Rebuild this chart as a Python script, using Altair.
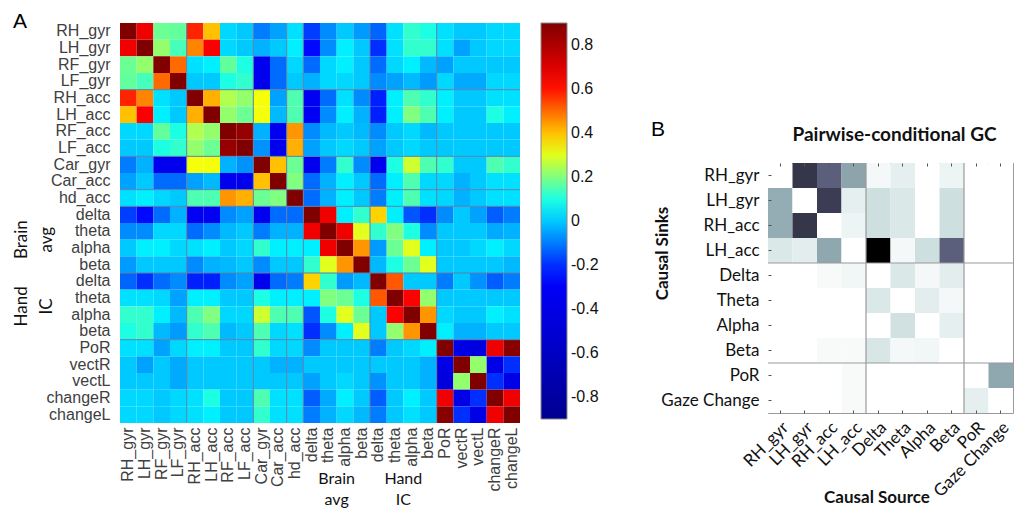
import altair as alt
import pandas as pd

# ---------------- Panel A data ----------------
left_keys = ["RH_gyr", "LH_gyr", "RF_gyr", "LF_gyr", "RH_acc", "LH_acc", "RF_acc", "LF_acc",
             "Car_gyr", "Car_acc", "hd_acc", "delta", "theta", "alpha", "beta",
             "delta#2", "theta#2", "alpha#2", "beta#2", "PoR", "vectR", "vectL", "changeR", "changeL"]

# lower triangle of the symmetric correlation matrix (row i holds columns 0..i-1); diagonal = 1
corr_lower = [
    [0.65],
    [0.18, 0.22],
    [0.17, 0.14, 0.50],
    [0.58, 0.47, 0.03, 0.00],
    [0.40, 0.63, 0.05, 0.00, 0.42],
    [0.02, 0.02, 0.17, 0.10, 0.25, 0.22],
    [0.00, 0.00, 0.10, 0.12, 0.22, 0.18, 0.85],
    [-0.10, -0.03, -0.35, -0.35, 0.32, 0.32, -0.03, -0.07],
    [-0.05, 0.00, -0.12, -0.12, -0.05, -0.02, -0.35, -0.35, 0.40],
    [0.03, 0.05, 0.02, 0.00, 0.15, 0.15, 0.45, 0.42, 0.18, 0.20],
    [-0.18, -0.25, -0.12, -0.03, -0.33, -0.33, -0.08, -0.05, -0.35, -0.12, -0.12],
    [-0.08, -0.08, 0.02, 0.02, -0.12, -0.08, -0.02, 0.00, -0.10, -0.03, -0.03, 0.65],
    [0.00, 0.05, 0.05, 0.02, 0.03, 0.05, 0.00, 0.02, 0.12, 0.05, 0.05, 0.05, 0.65],
    [-0.06, 0.00, 0.00, 0.00, -0.08, -0.03, -0.02, 0.00, -0.08, 0.00, 0.00, 0.12, 0.30, 0.45],
    [-0.13, -0.20, -0.12, -0.08, -0.22, -0.22, -0.08, -0.05, -0.35, -0.12, -0.10, 0.38, 0.12, -0.06, -0.02],
    [0.03, 0.03, 0.02, -0.05, 0.05, 0.05, 0.00, 0.00, 0.10, 0.05, 0.05, 0.05, 0.20, 0.18, 0.10, 0.52],
    [0.12, 0.12, 0.05, -0.02, 0.15, 0.20, 0.02, 0.02, 0.28, 0.15, 0.15, -0.15, 0.10, 0.30, 0.18, 0.00, 0.62],
    [0.10, 0.12, -0.02, -0.06, 0.12, 0.15, -0.02, 0.00, 0.15, 0.02, 0.03, -0.20, -0.08, 0.05, 0.30, 0.00, 0.22, 0.45],
    [0.03, 0.03, -0.05, 0.02, 0.05, 0.05, 0.00, 0.00, 0.12, 0.02, 0.02, -0.08, 0.00, 0.00, 0.00, -0.10, 0.00, 0.02, 0.05],
    [0.00, -0.05, 0.00, -0.04, 0.00, 0.00, 0.00, 0.00, 0.00, -0.03, -0.03, 0.00, 0.00, 0.00, 0.00, 0.00, 0.00, 0.00, -0.03, -0.40],
    [0.00, 0.00, 0.00, -0.04, 0.00, 0.00, 0.00, 0.00, 0.00, 0.00, 0.00, -0.05, 0.00, 0.02, 0.00, -0.07, 0.00, 0.00, -0.03, -0.45, 0.22],
    [0.02, 0.02, 0.00, 0.02, 0.03, 0.10, 0.00, 0.00, 0.15, 0.03, 0.03, -0.14, -0.04, 0.05, 0.00, -0.14, 0.00, 0.05, 0.00, 0.65, -0.40, -0.20],
    [0.02, 0.02, 0.00, 0.02, 0.03, 0.05, 0.00, 0.00, 0.12, 0.03, 0.03, -0.10, -0.03, 0.02, -0.02, -0.10, 0.00, 0.03, 0.00, 0.88, -0.20, -0.40, 0.65],
]
left_separators = ["RH_acc", "Car_gyr", "hd_acc", "delta", "delta#2", "PoR"]
group_anchor = ["alpha", "alpha#2"]
group_line1 = ["Brain", "Hand"]
group_line2 = ["avg", "IC"]
colorbar_ticks = [-0.8, -0.6, -0.4, -0.2, 0, 0.2, 0.4, 0.6, 0.8]
jet_domain = [-0.9, -0.26, 0.07, 0.33, 0.62, 0.9]
jet_colors = ["#00008f", "#0000ff", "#00ffff", "#ffff00", "#ff0000", "#800000"]

# ---------------- Panel B data ----------------
gc_labels = ["RH_gyr", "LH_gyr", "RH_acc", "LH_acc", "Delta", "Theta", "Alpha", "Beta", "PoR", "Gaze Change"]
gc_values = [
    [0.00, 0.75, 0.58, 0.36, 0.03, 0.07, 0.00, 0.05, 0.00, 0.00],
    [0.33, 0.00, 0.72, 0.07, 0.14, 0.10, 0.00, 0.14, 0.00, 0.00],
    [0.33, 0.75, 0.00, 0.05, 0.14, 0.10, 0.00, 0.14, 0.00, 0.00],
    [0.10, 0.08, 0.35, 0.00, 1.00, 0.03, 0.14, 0.58, 0.00, 0.00],
    [0.00, 0.00, 0.02, 0.04, 0.00, 0.10, 0.03, 0.08, 0.00, 0.00],
    [0.00, 0.00, 0.00, 0.00, 0.10, 0.00, 0.08, 0.03, 0.00, 0.00],
    [0.00, 0.00, 0.00, 0.00, 0.00, 0.13, 0.00, 0.07, 0.00, 0.00],
    [0.00, 0.00, 0.02, 0.02, 0.11, 0.03, 0.04, 0.00, 0.00, 0.00],
    [0.00, 0.00, 0.00, 0.02, 0.00, 0.00, 0.00, 0.00, 0.00, 0.35],
    [0.00, 0.00, 0.00, 0.02, 0.00, 0.00, 0.00, 0.00, 0.07, 0.00],
]
gc_separators = ["Delta", "PoR"]
bone_domain = [0, 0.25, 0.625, 1]
bone_colors = ["#ffffff", "#a6c6c6", "#515171", "#000000"]

# ---------------- tables ----------------
n = len(left_keys)
recs = []
for i in range(n):
    for j in range(n):
        if i == j:
            v = 1.0
        elif j < i:
            v = corr_lower[i - 1][j]
        else:
            v = corr_lower[j - 1][i]
        recs.append({"row": left_keys[i], "col": left_keys[j], "r": v})
corr_df = pd.DataFrame(recs)

gc_df = pd.DataFrame([{"sink": gc_labels[i], "src": gc_labels[j], "gc": gc_values[i][j]}
                      for i in range(len(gc_labels)) for j in range(len(gc_labels))])

groups_df = pd.DataFrame({"row": group_anchor, "col": group_anchor,
                          "line1": group_line1, "line2": group_line2})

# ---------------- Panel A ----------------
LW = 400
LH = 400
lscale = alt.Scale(domain=left_keys, paddingInner=0, paddingOuter=0)
lab_expr = "replace(datum.label, '#2', '')"
lx_axis = alt.Axis(orient="bottom", labelAngle=-90, labelAlign="right", labelBaseline="middle",
                   labelFont="Liberation Sans", labelFontSize=16, labelColor="#404040",
                   labelPadding=4, ticks=False, domain=False, title=None,
                   labelExpr=lab_expr, labelOverlap=False)
ly_axis = alt.Axis(orient="left", labelFont="Liberation Sans", labelFontSize=16, labelColor="#404040",
                   labelPadding=10, ticks=False, domain=False, title=None,
                   labelExpr=lab_expr, labelOverlap=False)

heat = alt.Chart(corr_df).mark_rect().encode(
    x=alt.X("col:N", scale=lscale, axis=lx_axis),
    y=alt.Y("row:N", scale=lscale, axis=ly_axis),
    color=alt.Color("r:Q",
                    scale=alt.Scale(domain=jet_domain, range=jet_colors, clamp=True, interpolate="rgb"),
                    legend=alt.Legend(orient="right", offset=21, title=None, direction="vertical",
                                      gradientLength=396, gradientThickness=26,
                                      gradientStrokeColor="#8a8a8a", gradientStrokeWidth=1,
                                      values=colorbar_ticks, padding=0, labelOffset=4,
                                      labelFont="Liberation Sans", labelFontSize=16, labelColor="#111",
                                      labelOverlap=False,
                                      labelExpr="datum.value == 0 ? '0' : toString(round(datum.value*10)/10)")),
)
sep_color = "#5f7fa8"
vlines = alt.Chart(pd.DataFrame({"col": left_separators})).mark_rule(color=sep_color, strokeWidth=1).encode(
    x=alt.X("col:N", scale=lscale, axis=lx_axis, bandPosition=0))
hlines = alt.Chart(pd.DataFrame({"row": left_separators})).mark_rule(color=sep_color, strokeWidth=1).encode(
    y=alt.Y("row:N", scale=lscale, axis=ly_axis, bandPosition=0))

gtxt = dict(font="Lato", fontSize=17, color="#111", baseline="alphabetic", align="center")
btxt = dict(font="Lato", fontSize=16, color="#111", baseline="alphabetic", align="center")
side1 = alt.Chart(groups_df).mark_text(angle=270, **gtxt).encode(
    y=alt.Y("row:N", scale=lscale, axis=ly_axis, bandPosition=0), x=alt.value(-93), text="line1:N")
side2 = alt.Chart(groups_df).mark_text(angle=270, **gtxt).encode(
    y=alt.Y("row:N", scale=lscale, axis=ly_axis, bandPosition=0), x=alt.value(-68), text="line2:N")
bot1 = alt.Chart(groups_df).mark_text(**btxt).encode(
    x=alt.X("col:N", scale=lscale, axis=lx_axis, bandPosition=0), y=alt.value(LH + 61), text="line1:N")
bot2 = alt.Chart(groups_df).mark_text(**btxt).encode(
    x=alt.X("col:N", scale=lscale, axis=lx_axis, bandPosition=0), y=alt.value(LH + 82), text="line2:N")
letter_a = alt.Chart(pd.DataFrame({"t": ["A"]})).mark_text(
    align="left", baseline="alphabetic", font="Liberation Sans", fontSize=21, color="black").encode(
    x=alt.value(-107), y=alt.value(5), text="t:N")

panel_a = alt.layer(heat, vlines, hlines, side1, side2, bot1, bot2, letter_a).properties(width=LW, height=LH)

# ---------------- Panel B ----------------
RW = 245
RH = 250
rscale = alt.Scale(type="band", domain=gc_labels, paddingInner=0, paddingOuter=0)
rx_main = alt.Axis(orient="bottom", labelAngle=-45, ticks=False, domain=False,
                   labelFont="Lato", labelFontSize=17, labelColor="#111", labelPadding=6,
                   labelOverlap=False,
                   title="Causal Source", titleFont="Lato", titleFontSize=17, titleFontWeight="bold",
                   titleColor="#111", titleX=RW / 2 - 14, titleY=89, titleAlign="center",
                   titleBaseline="alphabetic", titleAngle=0)
ry_main = alt.Axis(orient="left", ticks=False, domain=False,
                   labelFont="Lato", labelFontSize=17, labelColor="#111", labelPadding=9,
                   labelOverlap=False,
                   title="Causal Sinks", titleFont="Lato", titleFontSize=17, titleFontWeight="bold",
                   titleColor="#111", titleAngle=270, titleX=-106, titleY=90,
                   titleAlign="center", titleBaseline="middle")
tick_kw = dict(labels=False, ticks=True, tickSize=3, tickColor="#555", tickWidth=1,
               domain=False, title=None, grid=False, zindex=1)
ax_tick_at_bottom = alt.Axis(orient="top", offset=-RH, **tick_kw)
ax_tick_at_top = alt.Axis(orient="bottom", offset=-RH, **tick_kw)
ay_tick_at_left = alt.Axis(orient="right", offset=-RW, **tick_kw)

rheat = alt.Chart(gc_df).mark_rect().encode(
    x=alt.X("src:N", scale=rscale, axis=rx_main),
    y=alt.Y("sink:N", scale=rscale, axis=ry_main),
    color=alt.Color("gc:Q", scale=alt.Scale(domain=bone_domain, range=bone_colors, interpolate="rgb"),
                    legend=None),
)
gray = "#9a9a9a"
rv = alt.Chart(pd.DataFrame({"src": gc_separators})).mark_rule(color=gray, strokeWidth=1.2).encode(
    x=alt.X("src:N", scale=rscale, axis=None, bandPosition=0))
rh = alt.Chart(pd.DataFrame({"sink": gc_separators})).mark_rule(color=gray, strokeWidth=1.2).encode(
    y=alt.Y("sink:N", scale=rscale, axis=None, bandPosition=0))
rt1 = alt.Chart(gc_df).mark_rect(opacity=0).encode(
    x=alt.X("src:N", scale=rscale, axis=ax_tick_at_bottom),
    y=alt.Y("sink:N", scale=rscale, axis=ay_tick_at_left))
rt2 = alt.Chart(gc_df).mark_rect(opacity=0).encode(
    x=alt.X("src:N", scale=rscale, axis=ax_tick_at_top))
letter_b = alt.Chart(pd.DataFrame({"t": ["B"]})).mark_text(
    align="left", baseline="alphabetic", font="Liberation Sans", fontSize=21, color="black").encode(
    x=alt.value(-117), y=alt.value(-27), text="t:N")
title_b = alt.Chart(pd.DataFrame({"t": ["Pairwise-conditional GC"]})).mark_text(
    align="center", baseline="alphabetic", font="Lato", fontSize=19, fontWeight="bold", color="#111").encode(
    x=alt.value(RW / 2 + 4), y=alt.value(-22), text="t:N")

panel_b = alt.layer(rheat, rv, rh, rt1, rt2, letter_b, title_b).resolve_axis(
    x="independent", y="independent").properties(
    width=RW, height=RH, view=alt.ViewBackground(stroke=gray, strokeWidth=1))

spacer = alt.Chart(pd.DataFrame({"t": [""]})).mark_text().encode(
    text="t:N", x=alt.value(0), y=alt.value(0)).properties(width=1, height=95)

right_col = alt.vconcat(spacer, panel_b, spacing=0)

chart = alt.hconcat(panel_a, right_col, spacing=51).resolve_scale(
    color="independent").resolve_legend(color="independent").configure_view(
    stroke=None).properties(padding={"left": 5, "top": 3, "right": 0, "bottom": 0})

chart.save("out.html", embed_options={"renderer": "svg", "actions": False})
